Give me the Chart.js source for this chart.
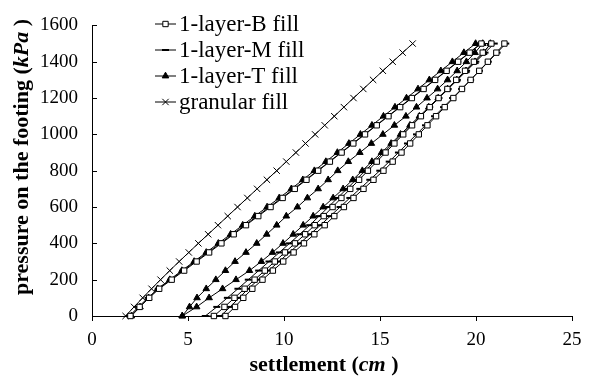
<!DOCTYPE html>
<html>
<head>
<meta charset="utf-8">
<script src="https://cdn.jsdelivr.net/npm/chart.js@4.4.0/dist/chart.umd.min.js"></script>
<style>
  html, body { margin: 0; padding: 0; background: #fff; }
</style>
</head>
<body>
<canvas id="chart" width="597" height="386"></canvas>
<script>
// load steps used for every curve (kPa)
const pressureKPa = [0, 50, 100, 150, 200, 250, 300, 350, 400, 450, 500, 550, 600, 650, 700, 750,
  800, 850, 900, 950, 1000, 1050, 1100, 1150, 1200, 1250, 1300, 1350, 1400, 1450, 1500];

const seriesNames = ['1-layer-B fill', '1-layer-M fill', '1-layer-T fill', 'granular fill'];
const xTicks = [0, 5, 10, 15, 20, 25];
const yTicks = [0, 200, 400, 600, 800, 1000, 1200, 1400, 1600];

// settlement (cm) at each pressure step, listed from 0 up to 1500 kPa
const granularFill = [1.75, 2.19, 2.64, 3.10, 3.57, 4.05, 4.54, 5.04, 5.54, 6.05, 6.56, 7.07, 7.58, 8.09, 8.60, 9.11,
  9.62, 10.12, 10.62, 11.12, 11.62, 12.12, 12.62, 13.12, 13.62, 14.13, 14.64, 15.15, 15.66, 16.18, 16.70];

const bLoad = [2.00, 2.48, 2.98, 3.50, 4.15, 4.80, 5.45, 6.10, 6.74, 7.38, 8.02, 8.66, 9.30, 9.93, 10.56, 11.17,
  11.78, 12.39, 13.00, 13.61, 14.22, 14.83, 15.44, 16.05, 16.66, 17.27, 17.87, 18.47, 19.07, 19.67, 20.28];
const bUnload = [6.35, 6.90, 7.42, 7.95, 8.47, 9.00, 9.52, 10.05, 10.57, 11.10, 11.60, 12.07, 12.53, 12.99, 13.45, 13.91,
  14.37, 14.83, 15.29, 15.75, 16.21, 16.67, 17.13, 17.59, 18.05, 18.51, 18.97, 19.43, 19.89, 20.35, 20.80];
const bReload = [6.95, 7.45, 7.88, 8.35, 8.88, 9.42, 9.96, 10.50, 11.04, 11.58, 12.12, 12.62, 13.12, 13.62, 14.14, 14.66,
  15.18, 15.66, 16.12, 16.57, 17.02, 17.47, 17.92, 18.37, 18.82, 19.27, 19.72, 20.17, 20.62, 21.06, 21.48];

const mLoad = [1.95, 2.42, 2.92, 3.45, 4.10, 4.74, 5.39, 6.04, 6.68, 7.32, 7.96, 8.60, 9.24, 9.88, 10.51, 11.13,
  11.75, 12.36, 12.97, 13.58, 14.19, 14.80, 15.41, 16.02, 16.63, 17.24, 17.85, 18.45, 19.05, 19.65, 20.25];
const mUnload = [5.90, 6.50, 7.05, 7.60, 8.14, 8.68, 9.22, 9.76, 10.29, 10.82, 11.34, 11.83, 12.31, 12.79, 13.27, 13.75,
  14.23, 14.71, 15.19, 15.67, 16.15, 16.63, 17.11, 17.59, 18.07, 18.55, 19.03, 19.51, 19.99, 20.47, 20.95];
const mReload = [6.70, 7.20, 7.66, 8.14, 8.66, 9.20, 9.74, 10.28, 10.82, 11.36, 11.90, 12.41, 12.92, 13.43, 13.95, 14.47,
  14.99, 15.48, 15.96, 16.43, 16.90, 17.37, 17.84, 18.31, 18.78, 19.25, 19.72, 20.18, 20.64, 21.10, 21.55];

const tLoad = [2.05, 2.50, 2.95, 3.42, 4.05, 4.68, 5.32, 5.95, 6.58, 7.22, 7.85, 8.48, 9.12, 9.75, 10.38, 10.98,
  11.58, 12.18, 12.78, 13.38, 13.98, 14.58, 15.18, 15.78, 16.38, 16.98, 17.57, 18.17, 18.77, 19.37, 19.98];
const tUnload = [4.70, 5.45, 6.10, 6.80, 7.50, 8.20, 8.82, 9.40, 9.95, 10.48, 11.00, 11.52, 12.04, 12.56, 13.08, 13.58,
  14.08, 14.58, 15.08, 15.58, 16.07, 16.56, 17.05, 17.54, 18.03, 18.52, 19.00, 19.48, 19.95, 20.40, 20.75];
const tReload = [4.70, 5.08, 5.47, 5.95, 6.45, 6.95, 7.45, 8.02, 8.58, 9.10, 9.62, 10.12, 10.70, 11.22, 11.78, 12.30,
  12.80, 13.35, 13.95, 14.55, 15.15, 15.75, 16.35, 16.90, 17.45, 18.00, 18.52, 19.02, 19.50, 19.95, 20.35];

const FONT = '"Liberation Serif", "Times New Roman", serif';

// load up, unload back down, reload up again
function cycle(load, unload, reload) {
  const pts = load.map((s, i) => ({ x: s, y: pressureKPa[i] }));
  if (unload) {
    for (let i = unload.length - 1; i >= 0; i--) pts.push({ x: unload[i], y: pressureKPa[i] });
    reload.forEach((s, i) => pts.push({ x: s, y: pressureKPa[i] }));
  }
  return pts;
}

function series(label, pts, style, radius, fill, bw) {
  return {
    label: label,
    data: pts,
    showLine: true,
    borderColor: '#000',
    borderWidth: 1,
    pointStyle: style,
    pointRadius: radius,
    pointBackgroundColor: fill,
    pointBorderColor: '#000',
    pointBorderWidth: bw,
    clip: false
  };
}

const legendPlugin = {
  id: 'sampleLegend',
  afterDraw(chart) {
    const ctx = chart.ctx;
    ctx.save();
    chart.data.datasets.forEach((ds, i) => {
      const y = 24 + i * 26;
      ctx.strokeStyle = '#000';
      ctx.lineWidth = 1;
      ctx.beginPath();
      ctx.moveTo(155, y);
      ctx.lineTo(176, y);
      ctx.stroke();
      ctx.fillStyle = ds.pointBackgroundColor;
      ctx.lineWidth = ds.pointBorderWidth;
      Chart.helpers.drawPoint(ctx, {
        pointStyle: ds.pointStyle, radius: ds.pointRadius,
        borderWidth: ds.pointBorderWidth, rotation: 0
      }, 165.5, y);
      ctx.fillStyle = '#000';
      ctx.font = '23px ' + FONT;
      ctx.textBaseline = 'middle';
      ctx.textAlign = 'left';
      ctx.fillText(ds.label, 179, y + 1);
    });
    ctx.restore();
  }
};

function drawRich(ctx, parts, cx, cy) {
  let total = 0;
  parts.forEach(p => { ctx.font = p.font; p.w = ctx.measureText(p.text).width; total += p.w; });
  let x = cx - total / 2;
  parts.forEach(p => { ctx.font = p.font; ctx.fillText(p.text, x, cy); x += p.w; });
}

const axisPlugin = {
  id: 'axisExtras',
  afterDraw(chart) {
    const ctx = chart.ctx;
    const yScale = chart.scales.y;
    const left = chart.chartArea.left;
    ctx.save();
    // inward tick marks on the pressure axis
    ctx.strokeStyle = '#000';
    ctx.lineWidth = 1;
    yTicks.forEach(v => {
      const py = Math.round(yScale.getPixelForValue(v)) + 0.5;
      ctx.beginPath();
      ctx.moveTo(left, py);
      ctx.lineTo(left + 5, py);
      ctx.stroke();
    });
    ctx.fillStyle = '#000';
    ctx.textBaseline = 'middle';
    ctx.textAlign = 'left';
    const bold = 'bold 22px ' + FONT;
    const boldIt = 'italic bold 22px ' + FONT;
    drawRich(ctx, [
      { text: 'settlement (', font: bold },
      { text: 'cm', font: boldIt },
      { text: ' )', font: bold }
    ], 324, 365);
    ctx.translate(22, 157);
    ctx.rotate(-Math.PI / 2);
    drawRich(ctx, [
      { text: 'pressure on the footing (', font: bold },
      { text: 'kPa', font: boldIt },
      { text: ' )', font: bold }
    ], 0, 0);
    ctx.restore();
  }
};

new Chart(document.getElementById('chart'), {
  type: 'scatter',
  data: {
    datasets: [
      series(seriesNames[0], cycle(bLoad, bUnload, bReload), 'rect', 3.8, '#fff', 1),
      series(seriesNames[1], cycle(mLoad, mUnload, mReload), 'line', 3.5, '#000', 2),
      series(seriesNames[2], cycle(tLoad, tUnload, tReload), 'triangle', 3.8, '#000', 1),
      series(seriesNames[3], cycle(granularFill), 'crossRot', 4.5, '#000', 1)
    ]
  },
  options: {
    responsive: false,
    animation: false,
    layout: { padding: { top: 16, right: 25, left: 0, bottom: 0 } },
    plugins: { legend: { display: false }, tooltip: { enabled: false } },
    scales: {
      x: {
        type: 'linear',
        min: 0,
        max: 25,
        afterBuildTicks: s => { s.ticks = xTicks.map(v => ({ value: v })); },
        afterFit: s => { s.height = 70; },
        border: { color: '#000', width: 1 },
        grid: { drawOnChartArea: false, drawTicks: true, tickLength: 5, color: '#000' },
        ticks: { color: '#000', font: { family: FONT, size: 19 }, padding: 8, maxRotation: 0,
          callback: v => String(v) }
      },
      y: {
        type: 'linear',
        min: 0,
        max: 1600,
        afterBuildTicks: s => { s.ticks = yTicks.map(v => ({ value: v })); },
        afterFit: s => { s.width = 92; },
        border: { color: '#000', width: 1 },
        grid: { drawOnChartArea: false, drawTicks: false },
        ticks: { color: '#000', font: { family: FONT, size: 19 }, padding: 14,
          callback: v => String(v) }
      }
    }
  },
  plugins: [legendPlugin, axisPlugin]
});
</script>
</body>
</html>
